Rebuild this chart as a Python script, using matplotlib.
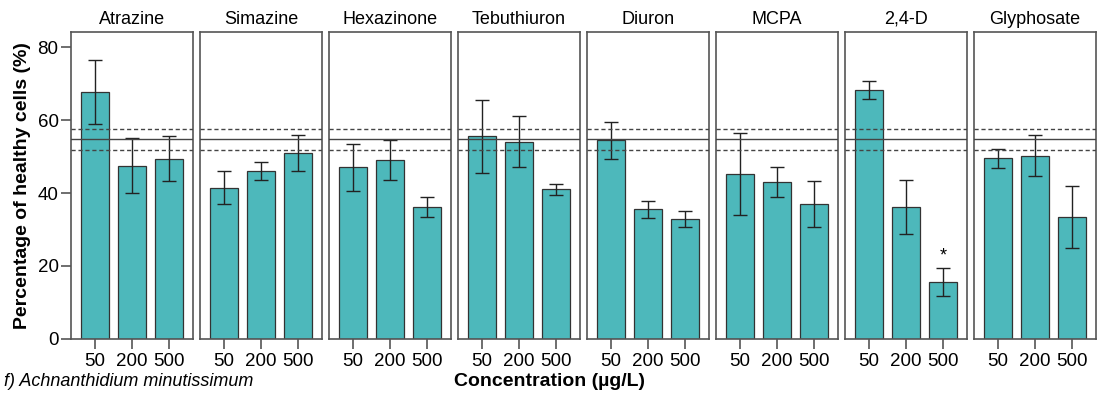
import numpy as np
import matplotlib
matplotlib.use("Agg")
import matplotlib.pyplot as plt

plt.rcParams['font.family'] = ['Liberation Sans', 'DejaVu Sans']

herbicides = ['Atrazine', 'Simazine', 'Hexazinone', 'Tebuthiuron', 'Diuron', 'MCPA', '2,4-D', 'Glyphosate']
concs = ['50', '200', '500']

means = [
    [67.6, 47.5, 49.4],
    [41.5, 46.0, 51.0],
    [47.0, 49.0, 36.2],
    [55.5, 54.0, 41.0],
    [54.4, 35.5, 32.8],
    [45.2, 43.0, 37.0],
    [68.2, 36.2, 15.7],
    [49.5, 50.2, 33.3],
]
errs = [
    [8.8, 7.6, 6.2],
    [4.4, 2.4, 5.0],
    [6.4, 5.4, 2.7],
    [10.0, 7.0, 1.5],
    [5.1, 2.4, 2.2],
    [11.2, 4.0, 6.2],
    [2.4, 7.4, 3.8],
    [2.6, 5.6, 8.5],
]
signif = [[], [], [], [], [], [], [2], []]

ctrl_mean = 54.8
ctrl_lo = 51.8
ctrl_hi = 57.6

fill = '#4DB8BB'

fig, axes = plt.subplots(1, 8, figsize=(11.01, 3.96), dpi=100, sharey=True)
fig.subplots_adjust(left=0.0645, right=0.9955, top=0.919, bottom=0.144, wspace=0.057)

x = np.arange(3)
for i, ax in enumerate(axes):
    ax.bar(x, means[i], width=0.74, color=fill, edgecolor='#333333', linewidth=0.9, zorder=2)
    ax.errorbar(x, means[i], yerr=errs[i], fmt='none', ecolor='#222222', elinewidth=1,
                capsize=5, capthick=1, zorder=3)
    ax.axhline(ctrl_mean, color='#444444', lw=1, zorder=4)
    ax.axhline(ctrl_lo, color='#444444', lw=1, ls=(0, (3, 2)), zorder=4)
    ax.axhline(ctrl_hi, color='#444444', lw=1, ls=(0, (3, 2)), zorder=4)
    for j in signif[i]:
        ax.text(x[j], means[i][j] + errs[i][j] + 0.8, '*', ha='center', va='bottom', fontsize=13)
    ax.set_xlim(-0.65, 2.65)
    ax.set_ylim(0, 84.1)
    ax.set_xticks(x)
    ax.set_xticklabels(concs, fontsize=13.5)
    ax.tick_params(axis='x', length=7, width=1.2, color='#555555', pad=3)
    ax.set_title(herbicides[i], fontsize=13, pad=6)
    for s in ax.spines.values():
        s.set_color('#555555')
        s.set_linewidth(1.2)
    if i == 0:
        ax.set_yticks([0, 20, 40, 60, 80])
        ax.tick_params(axis='y', length=7, width=1.2, color='#555555', labelsize=13.5, pad=2)
        ax.set_ylabel('Percentage of healthy cells (%)', fontsize=14, fontweight='bold', labelpad=5)
    else:
        ax.tick_params(axis='y', left=False, labelleft=False)

fig.text(0.4995, 0.037, 'Concentration (µg/L)', ha='center', va='center', fontsize=14, fontweight='bold')
fig.text(0.004, 0.037, 'f) Achnanthidium minutissimum', ha='left', va='center', fontsize=13, style='italic')

plt.savefig('out.png', dpi=100)
